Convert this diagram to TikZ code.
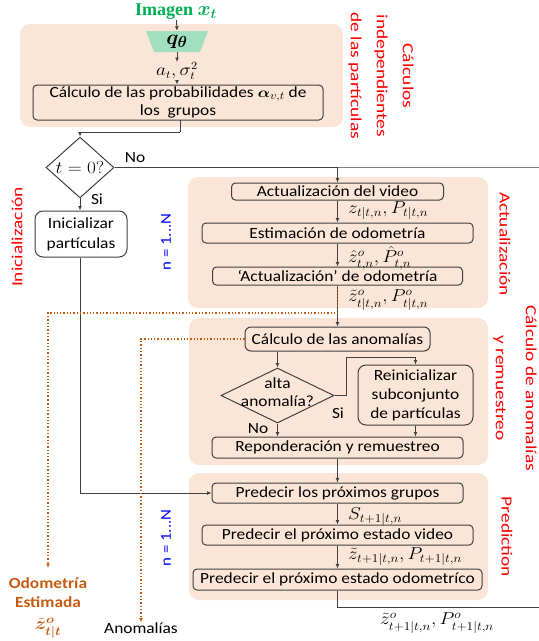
\documentclass[tikz,border=0pt]{standalone}
\usepackage{fontspec}
\setmainfont{Carlito}[FakeStretch=1.12]
\newfontfamily\redf{Carlito}[FakeStretch=1.25]
\newfontfamily\serf{Liberation Serif}
\usepackage{amsmath,bm}
\usetikzlibrary{shapes.geometric,arrows.meta}
\definecolor{panelc}{RGB}{251,229,214}
\definecolor{linec}{RGB}{64,64,64}
\definecolor{redc}{RGB}{255,0,0}
\definecolor{bluec}{RGB}{0,0,255}
\definecolor{orc}{RGB}{197,90,17}
\definecolor{grc}{RGB}{0,176,80}
\definecolor{trapc}{RGB}{160,224,192}
\newcommand\mlab[1]{\scalebox{1.12}[1]{$#1$}}
\tikzset{
  panel/.style={fill=panelc, rounded corners=10pt, draw=none},
  box/.style={draw=linec, line width=1pt, rounded corners=4pt, inner sep=0pt, align=center},
  rbox/.style={box, rounded corners=8pt},
  dia/.style={draw=linec, line width=1pt, diamond, inner sep=0pt, align=center},
  conn/.style={draw=linec, line width=0.9pt},
  arr/.style={conn, -{Latex[length=4.5pt,width=4pt]}},
  odot/.style={draw=orc, line width=1.3pt, dotted},
  oarr/.style={odot, -{Latex[length=4.5pt,width=4pt]}},
  lab/.style={inner sep=0pt, anchor=west, font=\fontsize{16.5}{17}\selectfont},
  redlab/.style={text=redc, font=\redf\fontsize{15.5}{16}\selectfont, align=center, inner sep=0pt},
  bluelab/.style={text=bluec, font=\fontsize{15}{16}\selectfont, rotate=90, inner sep=0pt},
  otext/.style={text=orc, font=\bfseries\fontsize{15.5}{17}\selectfont, inner sep=0pt},
}
\begin{document}
\begin{tikzpicture}[x=1pt,y=-1pt, font=\fontsize{15.5}{17}\selectfont]
\useasboundingbox (0,0) rectangle (539,641);
% panels
\path[panel] (20,24) rectangle (343,127);
\path[panel] (188,177) rectangle (488,308);
\path[panel] (189,318) rectangle (488,465);
\path[panel] (189,473) rectangle (488,600);
% top
\node[text=grc, font=\serf\bfseries\fontsize{18}{18}\selectfont, inner sep=0pt] (img) at (176,12) {Imagen \scalebox{1.15}{$\bm{x_t}$}};
\fill[trapc] (146,31) -- (208,31) -- (200,52) -- (154,52) -- cycle;
\node[minimum height=21pt, minimum width=46pt, inner sep=0pt] (q) at (177,41.5) {\scalebox{1.45}{$\bm{q_\theta}$}};
\node[inner sep=0pt, minimum height=15pt, font=\fontsize{16}{17}\selectfont] (at) at (177,71) {\mlab{a_t, \sigma_t^2}};
\node[box, minimum width=290pt, minimum height=35pt, font=\fontsize{15.5}{18}\selectfont] (prob) at (178,102.5) {C\'alculo de las probabilidades \mlab{\bm{\alpha}_{v,t}} de\\los\ \ grupos};
\draw[arr] (img) -- (q.north);
\draw[arr] (q.south) -- (at.north);
\draw[arr] (at.south) -- (prob.north -| at);
% init
\node[dia, minimum width=68pt, minimum height=49pt, font=\fontsize{16.5}{17}\selectfont] (d1) at (80,167.5) {\mlab{t=0?}};
\node[rbox, minimum width=92pt, minimum height=46pt, fill=white, font=\fontsize{15.5}{20}\selectfont] (init) at (81,234) {Inicializar\\part\'iculas};
\coordinate (c1) at (180,132);
\draw[conn] (180,120) -- (c1);
\draw[arr] (c1) -| (d1.north);
\node[inner sep=0pt] (no1) at (135,158) {No};
\node[inner sep=0pt] (si1) at (97,199) {Si};
\draw[arr] (d1.south) -- (init.north -| d1.south);
% Actualizacion
\node[box, minimum width=212pt, minimum height=17pt] (a1) at (337.5,191.5) {Actualizaci\'on del video};
\node[box, minimum width=271pt, minimum height=20pt] (a2) at (337.5,233) {Estimaci\'on de odometr\'ia};
\node[box, minimum width=250pt, minimum height=18pt] (a3) at (337.5,276) {`Actualizaci\'on' de odometr\'ia};
\coordinate (loopin) at (539,167.5);
\draw[conn] (d1.east) -- (d1.east -| a1.north);
\draw[conn, draw=gray] (d1.east -| a1.north) -- (loopin);
\draw[arr] (d1.east -| a1.north) -- (a1.north);
\draw[arr] (a1) -- (a2);
\draw[arr] (a2) -- (a3);
\node[lab] (l1) at (348,211) {\mlab{z_{t|t,n}, P_{t|t,n}}};
\node[lab] (l2) at (348,258) {\mlab{\hat{z}^o_{t,n}, \hat{P}^o_{t,n}}};
\node[lab] (l3) at (348,300) {\mlab{\tilde{z}^o_{t|t,n}, P^o_{t|t,n}}};
% anomalias
\node[box, rounded corners=6pt, minimum width=185pt, minimum height=24pt] (an) at (337.5,339) {C\'alculo de las anomal\'ias};
\node[dia, minimum width=113pt, minimum height=55pt] (d2) at (277.5,395.5) {};
\node[inner sep=0pt, align=center, font=\fontsize{15.5}{18}\selectfont] (d2t) at (277.5,392) {alta\\anomal\'ia?};
\node[rbox, minimum width=115pt, minimum height=60pt, font=\fontsize{15.5}{19}\selectfont] (re) at (415.5,395) {Reinicializar\\subconjunto\\de part\'iculas};
\node[box, minimum width=251pt, minimum height=21pt] (rp) at (337.5,447.5) {Reponderaci\'on y remuestreo};
\draw[arr] (a3) -- (an);
\draw[arr] (an.south -| d2.north) -- (d2.north);
\coordinate (c2) at (346,357);
\draw[arr] (d2.east) -- (d2.east -| c2) -- (c2) -| (re.north);
\draw[arr] (re.south) -- (rp.north -| re.south);
\draw[arr] (d2.south) -- (rp.north -| d2.south);
\node[inner sep=0pt] (si2) at (338,413) {Si};
\node[inner sep=0pt] (no2) at (258,429) {No};
% prediction
\node[box, minimum width=251pt, minimum height=20pt] (p1) at (337.5,493) {Predecir los pr\'oximos grupos};
\node[box, minimum width=271pt, minimum height=20pt] (p2) at (337.5,535) {Predecir el pr\'oximo estado video};
\node[box, minimum width=289pt, minimum height=21pt] (p3) at (337.5,579.5) {Predecir el pr\'oximo estado odometr\'ico};
\draw[arr] (rp) -- (p1);
\draw[arr] (p1) -- (p2);
\draw[arr] (p2) -- (p3);
\node[lab] (l4) at (348,517) {\mlab{S_{t+1|t,n}}};
\node[lab] (l5) at (348,557) {\mlab{\tilde{z}_{t+1|t,n}, P_{t+1|t,n}}};
\node[inner sep=0pt, font=\fontsize{16.5}{17}\selectfont] (l6) at (437,623) {\mlab{\tilde{z}^o_{t+1|t,n}, P^o_{t+1|t,n}}};
\coordinate (loopout) at (539,607);
\draw[conn] (p3.south) -- (p3.south |- loopout) -- (loopout);
\draw[arr] (init.south -| d1.south) |- (p1.west);
% orange outputs
\node[otext] (odo) at (48,583) {Odometr\'ia};
\node[otext] (odo2) at (48,602) {Estimada};
\node[otext, font=\fontsize{16.5}{17}\selectfont] (odo3) at (48,628) {\mlab{\bm{\tilde{z}^o_{t|t}}}};
\node[inner sep=0pt] (anom) at (141,628) {Anomal\'ias};
\coordinate (o1) at (337.5,313);
\draw[odot] (a3.south) -- (o1) -| (48,400);
\draw[oarr] (48,400) -- (48,568);
\draw[odot] (an.west) -| (141,500);
\draw[oarr] (141,500) -- (anom.north);
% side labels
\node[redlab, rotate=-90, font=\redf\fontsize{15.5}{26}\selectfont] (s1) at (381,76) {C\'alculos\\independientes\\de las part\'iculas};
\node[redlab, rotate=-90] (s2) at (505,244) {Actualizaci\'on};
\node[redlab, rotate=-90, font=\redf\fontsize{15.5}{30}\selectfont] (s3) at (515,388) {C\'alculo de anomal\'ias\\y remuestreo};
\node[redlab, rotate=-90] (s4) at (507,537) {Prediction};
\node[redlab, rotate=90] (s5) at (17,237) {Inicializaci\'on};
\node[bluelab] (n1) at (166,242) {n = 1...N};
\node[bluelab] (n2) at (166,538) {n = 1...N};
\end{tikzpicture}
\end{document}
